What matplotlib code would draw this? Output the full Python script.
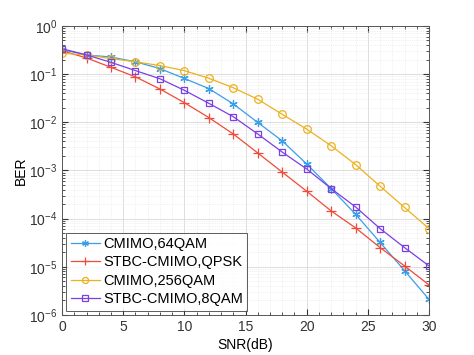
import numpy as np
import matplotlib
matplotlib.use('Agg')
import matplotlib.pyplot as plt
from matplotlib.ticker import LogLocator, NullFormatter, MultipleLocator

plt.rcParams['font.family'] = ['Liberation Sans', 'DejaVu Sans']

snr = [0, 2, 4, 6, 8, 10, 12, 14, 16, 18, 20, 22, 24, 26, 28, 30]

# BER curves
ber_64qam = [0.32, 0.25, 0.226, 0.18, 0.13, 0.081, 0.050, 0.024, 0.0099, 0.0041,
             0.00136, 4.2e-4, 1.23e-4, 3.2e-5, 8.3e-6, 2.1e-6]
ber_qpsk = [0.305, 0.216, 0.138, 0.0875, 0.049, 0.0255, 0.0125, 0.0057, 0.0023, 9.2e-4,
            3.7e-4, 1.44e-4, 6.4e-5, 2.5e-5, 1.04e-5, 4.2e-6]
ber_256qam = [0.27, 0.25, 0.21, 0.18, 0.15, 0.118, 0.082, 0.052, 0.030, 0.0146,
              0.0072, 0.00325, 0.00132, 4.7e-4, 1.7e-4, 6.2e-5]
ber_8qam = [0.336, 0.25, 0.175, 0.118, 0.08, 0.046, 0.0247, 0.013, 0.0057, 0.0024,
            0.00107, 4.2e-4, 1.74e-4, 6.2e-5, 2.5e-5, 1.04e-5]

labels = ['CMIMO,64QAM', 'STBC-CMIMO,QPSK', 'CMIMO,256QAM', 'STBC-CMIMO,8QAM']

fig = plt.figure(figsize=(4.74, 3.55), dpi=100)
ax = fig.add_axes([0.131, 0.113, 0.774, 0.814])

asterisk = (6, 2, 0)
ax.semilogy(snr, ber_64qam, '-', marker=asterisk, color='#3a9ee8', lw=0.9, ms=6, mew=0.9, label=labels[0])
ax.semilogy(snr, ber_qpsk, '-+', color='#f04a3a', lw=0.9, ms=7, mew=0.9, label=labels[1])
ax.semilogy(snr, ber_256qam, '-o', color='#edb120', lw=0.9, ms=5.5, mew=0.9, mfc='none', label=labels[2])
ax.semilogy(snr, ber_8qam, '-s', color='#7b3fe4', lw=0.9, ms=5, mew=0.9, mfc='none', label=labels[3])

ax.set_xlim(0, 30)
ax.set_ylim(1e-6, 1)
ax.set_xticks([0, 5, 10, 15, 20, 25, 30])
ax.yaxis.set_major_locator(LogLocator(base=10, numticks=10))
ax.yaxis.set_minor_locator(LogLocator(base=10, subs=np.arange(2, 10), numticks=20))
ax.yaxis.set_minor_formatter(NullFormatter())
ax.xaxis.set_minor_locator(MultipleLocator(1))

ax.grid(True, which='major', color='#d8d8d8', lw=0.6)
ax.grid(True, which='minor', color='#e4e4e4', lw=0.5, ls=':')
ax.tick_params(which='both', direction='in', top=True, right=True, labelsize=10, colors='#333333')
ax.tick_params(which='major', length=4)
ax.tick_params(which='minor', length=2)
for s in ax.spines.values():
    s.set_color('#555555')
    s.set_linewidth(0.7)

ax.set_xlabel('SNR(dB)', fontsize=10, labelpad=3)
ax.set_ylabel('BER', fontsize=10, labelpad=1)

leg = ax.legend(loc='lower left', fontsize=10.5, fancybox=False, edgecolor='#333333',
                handlelength=2.0, handletextpad=0.2, borderpad=0.3, labelspacing=0.3,
                borderaxespad=0.3, markerscale=0.8)
leg.get_frame().set_linewidth(0.7)

fig.savefig('out.png', dpi=100)
